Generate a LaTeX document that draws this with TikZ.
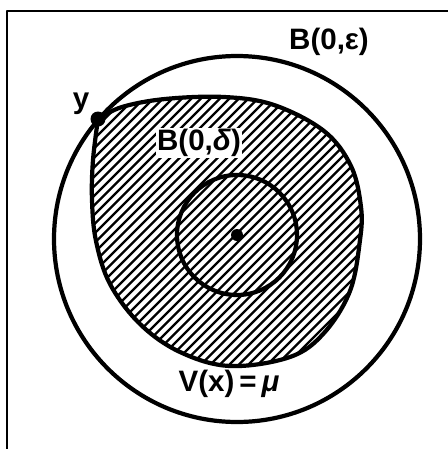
\documentclass[tikz,border=0pt]{standalone}
\usepackage{fontspec}
\setmainfont{Liberation Sans}
\usetikzlibrary{positioning,calc}
\tikzset{
  fig/.style={x=0.025cm,y=-0.025cm,line join=round},
  ball/.style={line width=3pt},
  hatch/.style={line width=1.6pt},
  lbl/.style={font=\fontsize{21}{25}\selectfont\bfseries,inner sep=1pt},
}

\begin{document}
\begin{tikzpicture}[fig]
  \useasboundingbox (0,0) rectangle (448,449);
  \coordinate (O) at (237,235);
  \coordinate (E) at (237,239);
  \coordinate (Y) at (98,119);
  \def\tear{(Y) -- plot[smooth,tension=0.6] coordinates {(98,119) (122,107) (165,99) (224,97)
    (274,105) (324,131) (351,166) (361,207) (360,240) (350,291) (324,333) (290,357)
    (230,366) (180,352) (140,324) (110,284) (96,241) (92,200) (93,160) (98,119)} -- cycle}
  \draw[line width=1.6pt] (448,11) -- (7,11) -- (7,449);
  \begin{scope}
    \clip \tear;
    \foreach \i in {-40,...,50}
      \draw[hatch] (\i*9.5,480) -- ++(500,-500);
  \end{scope}
  \draw[ball] \tear;
  \draw[ball] (E) circle (183);
  \draw[ball] (O) circle (60);
  \fill (O) circle (6);
  \fill (Y) circle (7.5);
  \node[lbl] (ye) at (81,104) {y};
  \node[lbl] (Be) at (329,42) {B(0,ε)};
  \node[lbl,fill=white] (Bd) at (199,143) {B(0,\textit{δ})};
  \node[lbl] (V) at (229,384) {V(x)\,=\,\textit{μ}};
\end{tikzpicture}
\end{document}
